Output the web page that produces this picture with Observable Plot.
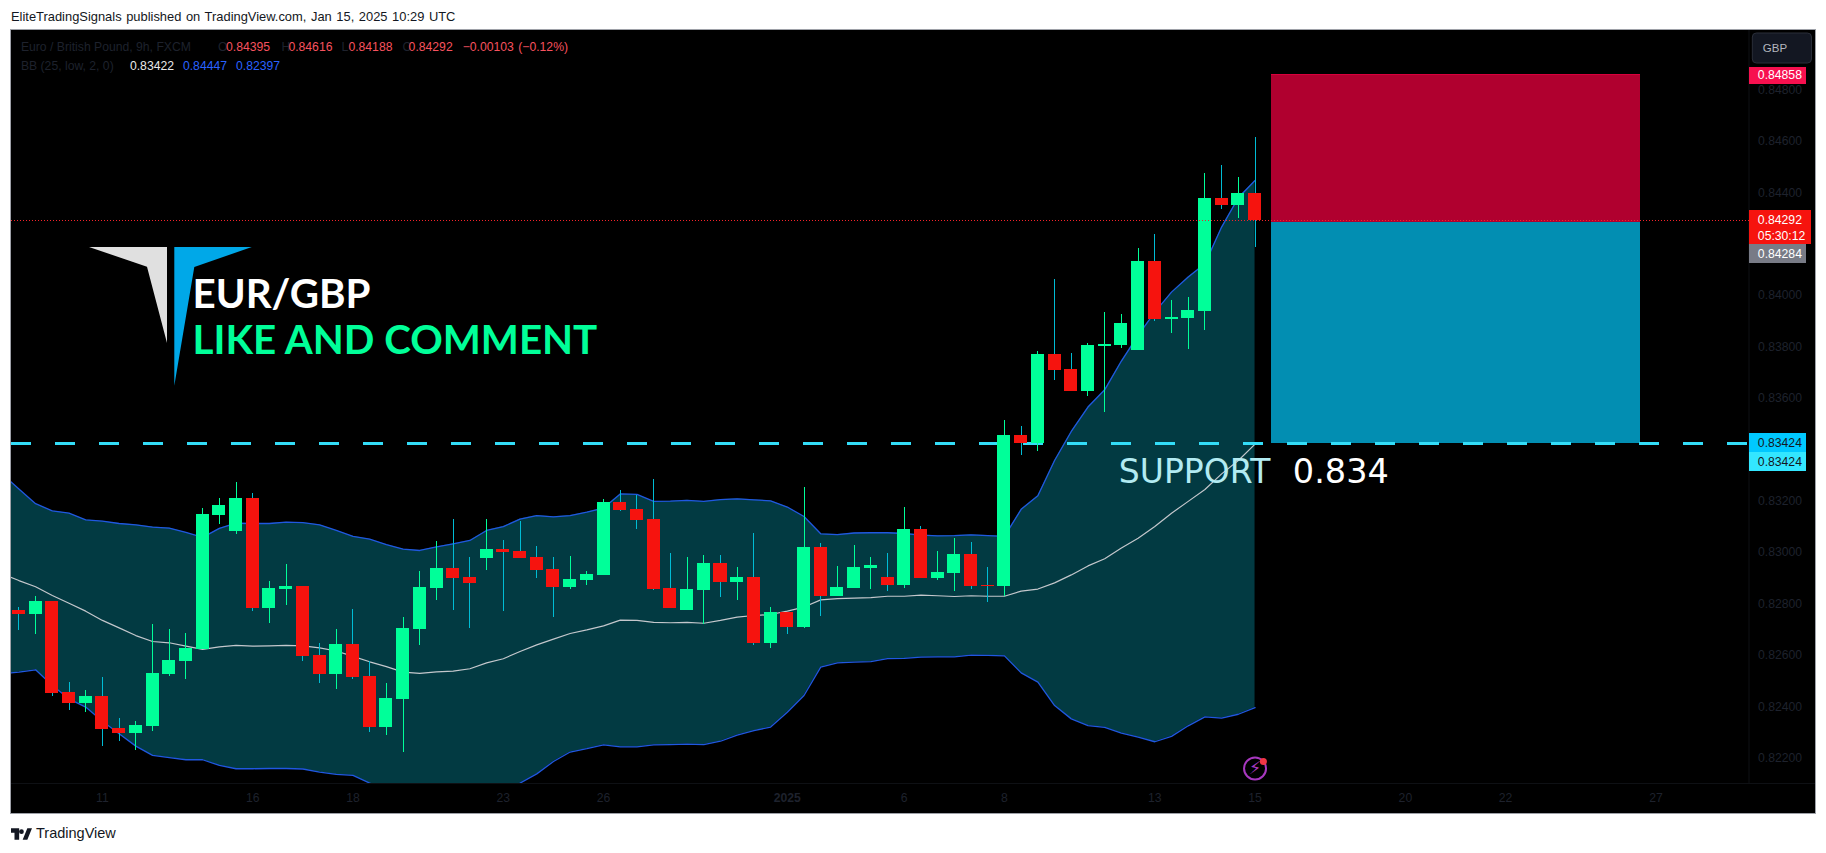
<!DOCTYPE html>
<html><head><meta charset="utf-8">
<script src="https://cdn.jsdelivr.net/npm/d3@7"></script>
<script src="https://cdn.jsdelivr.net/npm/@observablehq/plot@0.6"></script>
<style>
html,body{margin:0;padding:0;background:#fff;width:1826px;height:853px;overflow:hidden;font-family:"Liberation Sans",sans-serif}
#title{position:absolute;left:11px;top:9px;font-size:12.9px;line-height:15px;color:#131722;white-space:nowrap;word-spacing:1px}
#chart{position:absolute;left:11px;top:30px;width:1804px;height:783px;outline:1px solid #9ea1a8;outline-offset:0}
#chart svg{display:block;max-width:none}
#foot{position:absolute;left:11px;top:826px;height:15px;display:flex;align-items:center;gap:4px;color:#131722;font-size:14.5px;line-height:15px}
</style></head><body>
<div id="title">EliteTradingSignals published on TradingView.com, Jan 15, 2025 10:29 UTC</div>
<div id="chart"></div>
<div id="foot"><svg width="21" height="12" viewBox="0 0 36 20"><path fill="#131722" d="M14 20H6V8H0V0h14zM28 20h-8l8-20h8zM22 6a4 4 0 1 1-8 0 4 4 0 0 1 8 0z"/></svg><span>TradingView</span></div>
<script>
// OHLC, in units of 0.00001
const opens = [82775,82759,82810,82456,82413,82440,82316,82296,82323,82526,82576,82623,83144,83082,83210,82782,82856,82868,82600,82526,82642,82518,82320,82428,82701,82860,82938,82903,82977,83012,83004,82981,82934,82864,82891,82911,83195,83168,83129,82860,82775,82852,82958,82884,82903,82646,82767,82709,83020,82829,82860,82938,82903,82872,83090,82899,82919,82993,82872,82868,83456,83425,83771,83712,83627,83802,83806,83786,84132,83907,83911,83938,84378,84350,84395];
const highs = [82786,82829,82810,82495,82464,82514,82355,82343,82720,82701,82685,83171,83210,83273,83230,82887,82954,82868,82646,82701,82779,82576,82491,82747,82926,83043,83129,82981,83129,83047,83121,83024,82981,82985,82926,83206,83241,83222,83284,82996,82981,82989,82989,82942,83074,82786,82767,83253,83035,82946,83028,82981,82996,83175,83101,83004,83055,83039,82942,83514,83491,83782,84062,83775,83814,83934,83926,84183,84238,83981,83992,84475,84506,84459,84616];
const lows = [82697,82681,82440,82386,82378,82246,82265,82230,82304,82518,82506,82623,83109,83070,82771,82724,82794,82576,82491,82467,82506,82300,82288,82222,82639,82814,82775,82705,82930,82771,82977,82899,82747,82856,82872,82911,83160,83090,82852,82782,82775,82720,82825,82814,82639,82627,82681,82705,82751,82829,82860,82856,82849,82860,82899,82891,82849,82856,82806,82829,83378,83393,83670,83627,83607,83545,83794,83786,83899,83852,83790,83864,84335,84300,84188];
const closes = [82759,82810,82452,82413,82440,82312,82296,82327,82530,82580,82627,83148,83183,83210,82782,82860,82868,82596,82526,82642,82514,82320,82432,82705,82864,82938,82899,82880,83012,83000,82977,82930,82864,82895,82915,83195,83164,83125,82856,82782,82856,82958,82884,82903,82646,82767,82709,83020,82829,82864,82942,82950,82872,83090,82899,82922,82993,82868,82868,83456,83425,83771,83708,83627,83806,83810,83891,84132,83907,83915,83942,84378,84350,84397,84292];
// Bollinger bands, one bar before the first candle to the last candle
const bbUpper = [83306,83247,83190,83162,83153,83127,83122,83113,83108,83099,83095,83078,83059,83094,83114,83113,83113,83118,83116,83108,83086,83063,83052,83031,83013,83008,83022,83034,83047,83086,83101,83130,83144,83139,83144,83157,83173,83228,83226,83199,83200,83203,83199,83206,83209,83205,83201,83177,83140,83073,83070,83076,83077,83077,83074,83068,83065,83066,83069,83066,83063,83168,83221,83358,83471,83566,83633,83745,83845,83935,84013,84072,84123,84266,84380,84447];
const bbMiddle = [82917,82891,82867,82833,82803,82772,82736,82707,82677,82654,82649,82636,82623,82633,82639,82636,82637,82639,82637,82629,82617,82596,82575,82556,82535,82530,82536,82539,82548,82571,82587,82615,82641,82663,82685,82699,82715,82737,82736,82728,82727,82728,82725,82736,82749,82755,82759,82772,82788,82816,82821,82823,82825,82830,82830,82834,82832,82829,82832,82830,82830,82850,82858,82882,82913,82948,82976,83018,83056,83101,83153,83199,83245,83306,83358,83422];
const bbLower = [82528,82535,82544,82483,82431,82399,82344,82295,82247,82211,82202,82194,82194,82172,82159,82159,82160,82160,82158,82146,82137,82133,82103,82081,82057,82052,82050,82044,82049,82056,82073,82103,82139,82187,82224,82237,82252,82244,82244,82252,82253,82255,82253,82266,82290,82307,82321,82379,82444,82554,82571,82574,82576,82587,82588,82593,82594,82594,82601,82600,82598,82532,82496,82405,82353,82327,82320,82298,82282,82264,82285,82326,82361,82356,82371,82397];
// Axis ticks
const priceTicks = [0.848,0.846,0.844,0.84,0.838,0.836,0.832,0.83,0.828,0.826,0.824,0.822];
const dayTicks = [5,14,20,29,35,53,59,68,74,83,89,98];
const dayLabels = ["11","16","18","23","26","6","8","13","15","20","22","27"];
const yearTick = [46], yearLabel = ["2025"];
// Levels
const lastPrice = 0.84292, stopPrice = 0.84858, entryPrice = 0.84284, supportPrice = 0.83424;
const legendName = [
 {t:"Euro / British Pound, 9h, FXCM",x:9.4,c:"#1e222d"},{t:"O",x:206.5,c:"#1e222d"},{t:"0.84395",x:214.5,c:"#f7525f"},
 {t:"H",x:270,c:"#1e222d"},{t:"0.84616",x:276.8,c:"#f7525f"},{t:"L",x:330,c:"#1e222d"},{t:"0.84188",x:336.8,c:"#f7525f"},
 {t:"C",x:391,c:"#1e222d"},{t:"0.84292",x:397,c:"#f7525f"},{t:"−0.00103",x:451,c:"#f7525f"},{t:"(−0.12%)",x:506.6,c:"#f7525f"}];
const legendBB = [
 {t:"BB (25, low, 2, 0)",x:9.4,c:"#1e222d"},{t:"0.83422",x:118.4,c:"#e8e8e8"},{t:"0.84447",x:171.4,c:"#2962ff"},{t:"0.82397",x:224.5,c:"#2962ff"}];

const price = v => v / 1e5;
const candles = opens.map((o,i)=>({i,open:price(o),high:price(highs[i]),low:price(lows[i]),close:price(closes[i]),up:closes[i]>=o}));
const band = bbUpper.map((u,k)=>({i:k-1,upper:price(u),middle:price(bbMiddle[k]),lower:price(bbLower[k])}));
const half = 0.39, xMin = -0.443, xEdge = 103.57, boxStart = 75, boxEnd = 97.07;
const green = "#00ff99", red = "#f6130e", wickDown = "#00bcd4";
const tagBoxes = [
 {y1:0.848867,y2:0.848218,x2:107.04,f:"#f7104f"},
 {y1:0.843305,y2:0.841994,x2:107.34,f:red},
 {y1:0.841982,y2:0.841243,x2:107.04,f:"#787b86"},
 {y1:0.834631,y2:0.833892,x2:107.04,f:"#00c8ff"},
 {y1:0.833892,y2:0.833153,x2:107.04,f:"#33e6ff"}];
const tagTexts = [
 {t:"0.84858",y:0.84858,c:"#fff"},{t:"0.84292",y:0.84292,c:"#fff"},{t:"05:30:12",y:0.84232,c:"#fff"},
 {t:"0.84284",y:0.84161,c:"#fff"},{t:"0.83424",y:0.83424,c:"#131722"},{t:"0.83424",y:0.83350,c:"#131722"}];
const run = (arr,py)=>Plot.text(arr,{text:"t",fill:"c",textAnchor:"start",fontSize:12.2,x:d=>xMin+d.x/16.7,y:()=>py});
// Logo drawn as a custom mark, in the SVG's own pixels
const logo = () => {
  const g = d3.create("svg:g");
  g.append("path").attr("d","M78 217H156V313L136 236.7Z").attr("fill","#e0e0e0");
  g.append("path").attr("d","M163.3 217H240.8L183.3 237L163.3 355.7Z").attr("fill","#00a8e8");
  return g.node();
};
const plot = Plot.plot({
  width:1804,height:783,marginTop:0,marginRight:66.5,marginBottom:30,marginLeft:0,
  style:{background:"#000",fontFamily:"'Liberation Sans',sans-serif",overflow:"visible"},
  x:{type:"linear",domain:[xMin,xEdge],axis:null},
  y:{type:"linear",domain:[0.821016,0.850307],axis:null},
  marks:[
    Plot.ruleX([xEdge],{stroke:"#0e1014"}),
    Plot.ruleY([0.821016],{x1:xMin,x2:107.6,stroke:"#0e1014"}),
    Plot.areaY(band,{x:"i",y1:"lower",y2:"upper",fill:"#023a42",clip:true}),
    Plot.line(band,{x:"i",y:"upper",stroke:"#2058e0",strokeWidth:1.3,clip:true}),
    Plot.line(band,{x:"i",y:"lower",stroke:"#2058e0",strokeWidth:1.3,clip:true}),
    Plot.line(band,{x:"i",y:"middle",stroke:"#c4c7cc",strokeWidth:1.2,clip:true}),
    Plot.rect([0],{x1:boxStart,x2:boxEnd,y1:entryPrice,y2:stopPrice,fill:"#b0002f",shapeRendering:"crispEdges"}),
    Plot.rect([0],{x1:boxStart,x2:boxEnd,y1:supportPrice,y2:entryPrice,fill:"#028eb2",shapeRendering:"crispEdges"}),
    Plot.ruleY([stopPrice],{x1:boxStart,x2:boxEnd,stroke:"#d8003c",shapeRendering:"crispEdges"}),
    Plot.ruleY([supportPrice],{x1:xMin,x2:xEdge,stroke:"#33ddf8",strokeWidth:3.4,strokeDasharray:"20,24",shapeRendering:"crispEdges"}),
    Plot.ruleX(candles,{x:"i",y1:"low",y2:"high",stroke:d=>d.up?green:wickDown,strokeWidth:1,shapeRendering:"crispEdges"}),
    Plot.rect(candles,{x1:d=>d.i-half,x2:d=>d.i+half,y1:"open",y2:"close",fill:d=>d.up?green:red,shapeRendering:"crispEdges"}),
    Plot.ruleY([lastPrice],{x1:xMin,x2:xEdge,stroke:"#f6222a",strokeWidth:1,strokeDasharray:"1,2",shapeRendering:"crispEdges"}),
    Plot.axisY({anchor:"right",ticks:priceTicks,tickSize:0,tickPadding:9,tickFormat:d3.format(".5f"),color:"#1e222d",fontSize:12.2,label:null}),
    Plot.axisX({ticks:dayTicks,tickFormat:d=>dayLabels[dayTicks.indexOf(d)],tickSize:0,tickPadding:10,color:"#1e222d",fontSize:12.2,label:null}),
    Plot.axisX({ticks:yearTick,tickFormat:()=>yearLabel[0],tickSize:0,tickPadding:10,color:"#1e222d",fontSize:12.2,fontWeight:"bold",label:null}),
    Plot.rect(tagBoxes,{x1:xEdge,x2:"x2",y1:"y1",y2:"y2",fill:"f",shapeRendering:"crispEdges"}),
    Plot.text(tagTexts,{x:104.1,y:"y",text:"t",fill:"c",textAnchor:"start",fontSize:12.2}),
    Plot.rect([0],{x1:103.8,x2:107.34,y1:0.849023,y2:0.85019,fill:"#131722",stroke:"#2a2e39",rx:4}),
    Plot.text(["GBP"],{x:104.4,y:0.849606,fill:"#b2b5be",textAnchor:"start",fontSize:11.5}),
    run(legendName,0.849657),
    run(legendBB,0.84893),
    logo,
    Plot.text(["EUR/GBP"],{x:xMin+181/16.7,y:0.83951,text:d=>d,fill:"#fff",textAnchor:"start",fontSize:40.3,fontFamily:"Lato",fontWeight:"bold",lineAnchor:"bottom"}),
    Plot.text(["LIKE AND COMMENT"],{x:xMin+181/16.7,y:0.83771,text:d=>d,fill:green,textAnchor:"start",fontSize:40.3,fontFamily:"Lato",fontWeight:"bold",lineAnchor:"bottom"}),
    Plot.text(["SUPPORT"],{x:(1118-18.4)/16.7,y:0.83270,text:d=>d,fill:"#b2ebf2",textAnchor:"start",fontSize:33,fontFamily:"DejaVu Sans",lineAnchor:"bottom"}),
    Plot.text(["0.834"],{x:(1292-18.4)/16.7,y:0.83270,text:d=>d,fill:"#fff",textAnchor:"start",fontSize:33.5,fontFamily:"DejaVu Sans",lineAnchor:"bottom"}),
    Plot.dot([74],{x:d=>d,y:0.8216,r:11,stroke:"#a838c0",strokeWidth:2}),
    Plot.text(["⚡"],{x:74,y:0.8216,fill:"#a838c0",fontSize:18,fontFamily:"DejaVu Sans"}),
    Plot.dot([74.5],{x:d=>d,y:0.82187,r:3.5,fill:"#f23645"})
  ]
});
document.getElementById("chart").append(plot);
</script>
</body></html>
